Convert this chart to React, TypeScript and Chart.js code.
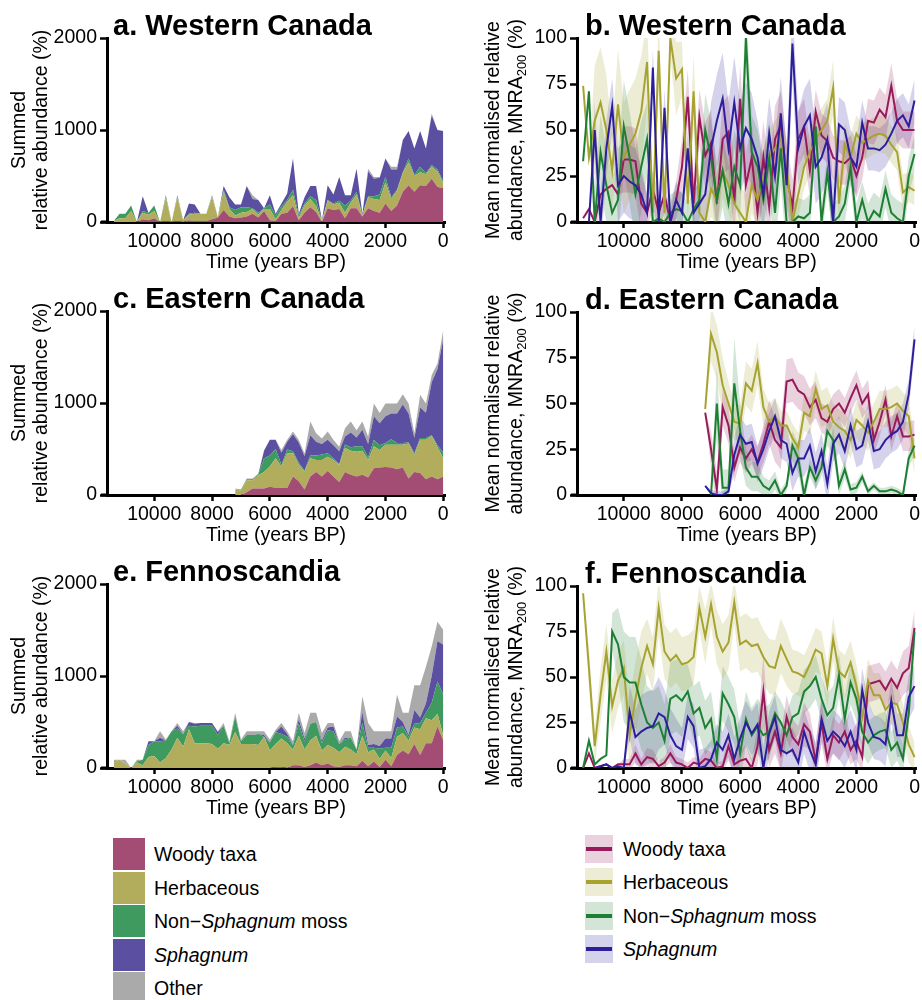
import React, { useEffect, useRef } from 'react';
import { Chart, registerables } from 'chart.js';
Chart.register(...registerables);

const FONT = '"Liberation Sans", Arial, Helvetica, sans-serif';

// ---------- categories / ticks ----------
const TIME = [11400, 11200, 11000, 10800, 10600, 10400, 10200, 10000, 9800, 9600, 9400, 9200, 9000, 8800, 8600, 8400, 8200, 8000, 7800, 7600, 7400, 7200, 7000, 6800, 6600, 6400, 6200, 6000, 5800, 5600, 5400, 5200, 5000, 4800, 4600, 4400, 4200, 4000, 3800, 3600, 3400, 3200, 3000, 2800, 2600, 2400, 2200, 2000, 1800, 1600, 1400, 1200, 1000, 800, 600, 400, 200, 0];
const X_TICKS = [10000, 8000, 6000, 4000, 2000, 0];
const SUM_TICKS = [0, 1000, 2000];
const MNRA_TICKS = [0, 25, 50, 75, 100];
const SUM_LABELS = ['Woody taxa', 'Herbaceous', 'Non\u2212Sphagnum moss', 'Sphagnum', 'Other'];
const MNRA_LABELS = ['Woody taxa', 'Herbaceous', 'Non\u2212Sphagnum moss', 'Sphagnum'];
const SUM_COLORS = ['#a34d74', '#b1ad5c', '#3e9a5f', '#5b4fa1', '#aaaaaa'];
const MNRA_LINE = ['#971b5b', '#a7a331', '#1d7f33', '#2d1f9c'];
const MNRA_FILL = ['rgba(151,27,91,0.2)', 'rgba(167,163,49,0.2)', 'rgba(29,127,51,0.2)', 'rgba(45,31,156,0.2)'];

// ---------- a. Western Canada, summed relative abundance ----------
const aWoody = [0,0,0,0,0,30,20,40,0,10,0,10,0,20,10,10,10, 30,50,130,60,40,50,60,90,50,120,20, 10,90,100,170,20,100,160,110,0,150, 130,140,40,150,150,60,150,120,100,200, 120,180,330,400,330,400,390,470,380,370];
const aHerb = [10,40,40,120,0,70,60,80,0,250,0,260,20,60,80,80,80, 240,5,200,80,30,50,50,50,30,20,120, 20,40,120,120,20,80,90,60,10,80, 60,70,60,60,150,10,120,130,140,230, 130,160,200,250,170,140,130,130,170,50];
const aMoss = [0,50,50,60,0,20,20,60,0,20,0,10,0,10,10,0,0, 10,0,20,20,60,60,50,10,20,10,50, 40,40,20,60,30,20,30,70,5,10, 10,20,80,20,30,10,10,30,60,60, 20,10,10,40,10,60,10,20,20,20];
const aSphag = [0,0,0,0,0,160,0,0,0,10,0,10,0,110,90,0,0, 10,0,40,110,60,30,230,100,140,0,100, 20,30,70,340,20,70,110,150,5,160, 100,260,110,60,250,10,270,190,180,200, 300,220,350,300,290,390,270,540,430,550];
const aOther = [0,0,0,0,0,0,0,0,0,0,0,0,0,0,0,0,0, 0,0,0,0,0,0,0,40,0,0,0, 0,0,0,0,0,0,0,0,0,0, 0,0,0,0,0,0,30,20,10,0, 30,30,0,0,0,0,0,20,0,0];

// ---------- c. Eastern Canada (from 7200 BP) ----------
const cWoody = [0,0,30,70,70,70,90,80,80,75,200,150,60,200,250,200,260,200,140,250,220,200,220,190,290,300,305,300,280,300,180,250,240,170,200,170,200];
const cHerb = [60,50,130,90,145,180,220,320,230,380,255,180,195,200,130,180,155,180,185,260,260,270,260,190,240,190,240,245,265,245,380,185,360,430,440,350,200];
const cMoss = [0,10,10,10,10,150,120,100,20,40,20,20,10,30,50,60,40,20,10,40,40,60,50,30,70,50,20,60,20,20,10,20,20,20,10,20,60];
const cSphag = [0,0,0,0,0,80,170,100,130,85,185,220,155,220,150,115,145,140,140,85,160,95,180,145,255,240,290,280,320,420,315,165,330,275,575,830,1235];
const cOther = [10,0,10,10,10,10,0,0,30,20,30,30,30,150,90,60,90,60,50,90,120,80,90,80,140,110,140,110,110,110,110,50,140,100,80,60,100];

// ---------- e. Fennoscandia ----------
const eWoody = [0,0,0,0,0,0,0,0,0,0,0,0,0,0,0,0,0,0,0,0,0,0,0,0,0,0,0,0, 10,10,0,30,30,10,30,60,30,50,20,10,30,30,20,80,20,70,10,90,20,140,190,150,260,140,270,270,450,300];
const eHerb = [60,90,50,0,60,30,120,130,60,110,200,330,230,420,270,270,270,260,210,270,250,390,260,260,260,250,340,190,250,310,270,170,320,190,270,290,160,200,200,160,200,170,130,270,150,130,90,100,90,200,190,150,180,280,270,250,140,50];
const eMoss = [10,0,0,0,10,60,130,160,230,190,200,100,140,40,180,190,190,200,150,190,20,170,30,100,100,120,0,90,130,50,70,50,130,90,180,150,80,160,180,90,80,130,50,140,50,20,110,30,110,100,70,40,40,70,60,190,350,450];
const eSphag = [0,0,0,0,0,0,40,0,40,0,0,30,0,40,30,30,30,30,30,0,0,0,0,0,0,0,20,0,0,80,30,0,50,30,0,0,30,30,50,0,20,0,0,120,30,40,30,100,100,120,50,20,150,60,100,290,440,540];
const eOther = [20,0,40,0,20,0,0,0,70,10,0,30,30,0,10,0,0,0,10,30,20,40,20,40,40,30,40,30,25,40,30,40,70,60,120,100,80,50,40,30,70,70,0,170,240,140,160,80,80,235,100,240,270,350,400,320,210,160];

// ---------- b. Western Canada, MNRA200 (means and ribbon half-widths) ----------
const bWoody = [2,7,0,15,18,20,15,34,34,33,10,5,18,5,15,0,12,30,68,10,57,36,43,10,45,49,10,67,20,35,5,35,8,45,53,25,8,45,52,28,60,47,44,35,33,32,35,25,35,55,54,61,57,74,55,50,50,50];
const bHerb = [74,35,55,65,50,28,64,35,42,48,60,87,5,93,5,100,78,83,10,71,5,0,18,12,28,20,10,5,0,20,12,25,35,40,45,30,0,15,30,38,45,50,55,73,10,42,35,48,43,45,47,48,47,42,38,16,19,17];
const bMoss = [33,71,0,38,20,5,12,52,35,15,30,45,0,2,0,5,7,6,0,7,12,50,35,12,28,10,30,20,100,38,30,12,35,5,40,0,0,3,2,5,52,0,27,0,3,10,30,0,12,0,6,3,18,5,2,0,25,37];
const bSphag = [null,0,50,0,40,63,20,25,22,20,15,5,84,0,62,0,12,5,40,5,10,15,40,55,67,40,65,40,51,45,35,15,48,25,59,20,97,40,52,58,30,35,45,0,53,50,35,30,54,40,40,39,42,48,55,58,52,66];
const bWoodySpr = [0,0,0,0,0,0,0,18,18,18,16,10,10,10,10,5,10,15,15,15,15,18,18,15,20,20,20,18,18,18,18,20,20,18,18,18,15,15,15,15,12,12,12,12,12,12,12,12,12,12,12,12,12,12,12,10,10,10];
const bHerbSpr = [0,0,30,30,30,20,30,30,30,30,30,25,10,20,10,10,20,15,10,20,10,15,15,15,15,15,15,15,15,15,15,15,15,15,15,15,10,12,12,12,12,12,12,15,12,12,12,10,10,10,10,10,10,10,10,10,8,8];
const bMossSpr = [0,0,20,20,20,20,20,25,25,25,25,20,10,10,10,10,10,10,10,10,10,20,20,20,20,20,20,20,20,20,20,20,20,20,20,15,10,10,10,10,10,10,10,10,10,10,10,10,10,10,10,10,10,10,10,10,10,10];
const bSphagSpr = [0,0,15,15,15,15,20,20,20,20,15,10,10,10,10,10,10,10,10,10,15,20,25,25,25,25,25,25,25,25,20,20,20,20,20,20,20,20,20,20,20,20,20,20,15,15,15,15,12,12,12,12,12,12,12,12,12,12];

// ---------- d. Eastern Canada, MNRA200 (from 7200 BP) ----------
const dWoody = [45,25,3,48,38,15,26,20,25,18,28,40,30,26,62,63,57,55,48,52,42,40,47,50,45,53,60,50,55,30,40,52,32,43,32,32,33];
const dHerb = [47,88,78,60,50,40,39,61,57,72,48,40,43,38,38,31,26,45,43,58,47,49,40,37,35,30,41,38,34,40,47,47,48,50,46,43,20];
const dMoss = [null,0,50,4,4,61,35,15,10,10,5,3,8,0,5,27,20,0,15,8,15,35,30,5,14,3,4,10,2,5,2,2,3,2,0,20,27];
const dSphag = [5,1,0,0,2,22,33,28,29,17,25,35,43,30,28,12,20,20,27,13,24,6,28,33,24,38,25,27,40,24,25,30,33,35,40,55,85];
const dWoodySpr = [0,10,10,10,10,8,8,8,8,8,10,12,12,12,12,12,10,10,10,10,8,8,8,8,8,8,8,8,8,8,8,8,8,8,8,8,8];
const dHerbSpr = [0,15,15,15,12,10,10,12,12,12,10,10,10,8,8,8,8,10,10,10,10,10,10,10,10,10,10,10,10,10,10,10,10,10,10,10,10];
const dMossSpr = [0,0,20,10,10,25,15,10,8,8,5,5,5,3,3,8,8,5,5,5,5,8,8,5,5,3,3,3,2,2,2,2,2,2,2,5,5];
const dSphagSpr = [0,2,2,2,2,10,10,10,10,10,10,10,10,10,10,10,10,10,10,10,10,10,10,10,10,10,10,10,10,10,10,10,10,10,10,8,8];

// ---------- f. Fennoscandia, MNRA200 ----------
const fWoody = [0,8,0,1,2,0,2,2,2,8,2,6,5,1,3,8,3,2,0,3,2,5,4,0,1,12,2,4,5,0,12,42,10,20,8,28,17,13,24,20,4,25,5,18,14,20,10,15,6,46,47,48,43,49,44,52,55,77];
const fHerb = [96,55,12,40,64,34,48,55,18,38,55,67,57,88,64,59,62,57,58,61,88,72,90,72,64,69,91,68,70,67,68,61,56,55,67,60,53,52,50,57,65,63,45,71,53,50,58,45,28,48,40,40,32,36,35,25,13,6];
const fMoss = [0,15,2,5,7,75,68,50,47,47,35,25,22,25,15,38,40,37,42,30,33,22,27,5,41,35,28,8,27,18,23,18,20,30,25,18,28,30,42,45,50,38,29,33,51,27,47,38,20,14,18,20,21,10,14,5,30,75];
const fSphag = [null,null,0,1,2,0,1,0,31,17,20,22,23,30,28,18,12,10,28,23,0,1,5,14,10,18,5,16,25,19,24,0,19,28,10,8,10,3,20,10,2,27,15,20,17,12,20,10,43,25,17,16,13,37,18,18,39,45];
const fWoodySpr = [0,0,0,0,0,0,0,3,3,5,3,5,5,3,3,5,3,3,3,3,3,5,5,3,3,8,5,5,8,5,10,20,10,12,10,12,10,10,12,10,8,12,8,10,10,10,8,10,8,10,10,10,10,10,10,12,12,10];
const fHerbSpr = [0,10,10,15,15,15,15,15,20,20,20,15,15,15,15,15,15,15,15,15,12,15,12,15,15,15,12,15,15,15,15,15,15,15,15,15,12,12,12,12,12,12,12,12,12,12,12,12,12,12,12,12,12,12,12,10,10,8];
const fMossSpr = [0,0,0,0,0,10,20,25,25,25,25,20,20,20,20,20,20,20,15,15,15,15,15,15,15,15,15,15,15,15,15,15,15,12,12,12,12,12,12,12,12,12,12,12,12,12,12,12,12,12,10,10,10,10,10,8,8,8];
const fSphagSpr = [0,0,0,0,0,0,0,0,15,15,20,20,20,20,15,15,15,12,12,12,10,10,10,10,10,12,12,12,12,12,12,12,12,12,12,12,12,12,12,12,12,12,12,12,12,12,12,12,12,12,12,12,12,12,12,12,12,12];

// ---------- helpers ----------
type V = number | null;
const pad = (arr: V[]): V[] => [...Array(Math.max(0, TIME.length - arr.length)).fill(null), ...arr];
const pts = (vals: V[]) => TIME.map((t, i) => ({ x: t, y: vals[i] === undefined ? null : vals[i] }));

function sumDatasets(series: V[][]) {
  return series.map((vals, k) => ({
    label: SUM_LABELS[k],
    data: pts(vals),
    backgroundColor: SUM_COLORS[k],
    borderColor: 'transparent',
    borderWidth: 0,
    fill: k === 0 ? 'origin' : '-1',
    pointRadius: 0,
    tension: 0,
  }));
}

function mnraDatasets(series: V[][], spreads: V[][]) {
  const lines = series.map((vals, k) => ({
    label: MNRA_LABELS[k],
    data: pts(vals),
    borderColor: MNRA_LINE[k],
    backgroundColor: MNRA_LINE[k],
    borderWidth: 2,
    fill: false,
    pointRadius: 0,
    tension: 0,
    order: 4 - k,
  }));
  const ribbons: any[] = [];
  series.forEach((vals, k) => {
    const s = spreads[k];
    const upper = vals.map((v, i) => (v == null ? null : v + (s[i] ?? 0)));
    const lower = vals.map((v, i) => (v == null ? null : v - (s[i] ?? 0)));
    ribbons.push({ label: MNRA_LABELS[k] + ' upper', data: pts(upper), borderWidth: 0, borderColor: 'transparent', backgroundColor: MNRA_FILL[k], fill: '+1', pointRadius: 0, tension: 0, order: 10 });
    ribbons.push({ label: MNRA_LABELS[k] + ' lower', data: pts(lower), borderWidth: 0, borderColor: 'transparent', backgroundColor: 'transparent', fill: false, pointRadius: 0, tension: 0, order: 10 });
  });
  return [...lines, ...ribbons];
}

type Part = { text: string; sub?: boolean };
type Panel = {
  left: number; top: number; width: number; height: number;
  padTop: number; yWidth: number; padRight: number;
  xMin: number; xMax: number;
  title: string; titleX: number; yTitleX: number[]; yTitle: Part[][];
  kind: 'sum' | 'mnra';
  datasets: any[];
};

const SUM_YTITLE: Part[][] = [[{ text: 'Summed' }], [{ text: 'relative abundance (%)' }]];
const MNRA_YTITLE: Part[][] = [
  [{ text: 'Mean normalised relative' }],
  [{ text: 'abundance, MNRA' }, { text: '200', sub: true }, { text: ' (%)' }],
];

const LEFT = { left: 0, width: 460, yWidth: 107, padRight: 15, xMin: -60, xMax: 11635, titleX: 113, yTitleX: [20, 42], yTitle: SUM_YTITLE, kind: 'sum' as const };
const RIGHT = { left: 460, width: 462, yWidth: 117, padRight: 4, xMin: -70, xMax: 11610, titleX: 125, yTitleX: [34, 57], yTitle: MNRA_YTITLE, kind: 'mnra' as const };

const PANELS: Panel[] = [
  { ...LEFT, top: 0, height: 275, padTop: 38, title: 'a. Western Canada', datasets: sumDatasets([aWoody, aHerb, aMoss, aSphag, aOther]) },
  { ...RIGHT, top: 0, height: 275, padTop: 38, title: 'b. Western Canada', datasets: mnraDatasets([bWoody, bHerb, bMoss, bSphag], [bWoodySpr, bHerbSpr, bMossSpr, bSphagSpr]) },
  { ...LEFT, top: 275, height: 273, padTop: 36, title: 'c. Eastern Canada', datasets: sumDatasets([pad(cWoody), pad(cHerb), pad(cMoss), pad(cSphag), pad(cOther)]) },
  { ...RIGHT, top: 275, height: 273, padTop: 37, title: 'd. Eastern Canada', datasets: mnraDatasets([pad(dWoody), pad(dHerb), pad(dMoss), pad(dSphag)], [pad(dWoodySpr), pad(dHerbSpr), pad(dMossSpr), pad(dSphagSpr)]) },
  { ...LEFT, top: 548, height: 273, padTop: 36, title: 'e. Fennoscandia', datasets: sumDatasets([eWoody, eHerb, eMoss, eSphag, eOther]) },
  { ...RIGHT, top: 548, height: 273, padTop: 38, title: 'f. Fennoscandia', datasets: mnraDatasets([fWoody, fHerb, fMoss, fSphag], [fWoodySpr, fHerbSpr, fMossSpr, fSphagSpr]) },
];

function drawRotated(ctx: CanvasRenderingContext2D, x: number, cy: number, parts: Part[]) {
  const main = `19.5px ${FONT}`;
  const small = `13px ${FONT}`;
  ctx.save();
  ctx.translate(x, cy);
  ctx.rotate(-Math.PI / 2);
  ctx.textBaseline = 'middle';
  ctx.textAlign = 'left';
  ctx.fillStyle = '#000';
  let total = 0;
  for (const p of parts) { ctx.font = p.sub ? small : main; total += ctx.measureText(p.text).width; }
  let pos = -total / 2;
  for (const p of parts) {
    ctx.font = p.sub ? small : main;
    ctx.fillText(p.text, pos, p.sub ? 5 : 0);
    pos += ctx.measureText(p.text).width;
  }
  ctx.restore();
}

function decorPlugin(p: Panel) {
  return {
    id: 'decor',
    afterDraw(chart: any) {
      const { ctx, chartArea } = chart;
      ctx.save();
      // small extension of the x axis line to the left of the y axis
      ctx.fillStyle = '#000';
      ctx.fillRect(chartArea.left - 6, chartArea.bottom - 1.5, 6, 3);
      ctx.font = `bold 29px ${FONT}`;
      ctx.textAlign = 'left';
      ctx.textBaseline = 'alphabetic';
      ctx.fillText(p.title, p.titleX, chartArea.top - 3);
      ctx.restore();
      const cy = (chartArea.top + chartArea.bottom) / 2;
      p.yTitle.forEach((parts, i) => drawRotated(ctx, p.yTitleX[i], cy, parts));
    },
  };
}

function buildConfig(p: Panel): any {
  const isSum = p.kind === 'sum';
  const tickFont = { family: FONT, size: 19.5 };
  return {
    type: 'line',
    data: { datasets: p.datasets },
    options: {
      responsive: false,
      animation: false,
      events: [],
      layout: { padding: { top: p.padTop, left: 0, right: p.padRight, bottom: 0 } },
      plugins: { legend: { display: false }, tooltip: { enabled: false }, title: { display: false } },
      elements: { point: { radius: 0 }, line: { tension: 0 } },
      scales: {
        x: {
          type: 'linear',
          reverse: true,
          min: p.xMin,
          max: p.xMax,
          afterFit: (s: any) => { s.height = 53; },
          afterBuildTicks: (s: any) => { s.ticks = X_TICKS.map((v) => ({ value: v })); },
          ticks: { callback: (v: any) => String(v), font: tickFont, color: '#000', padding: 2, maxRotation: 0, autoSkip: false },
          grid: { display: true, drawOnChartArea: false, drawTicks: true, tickLength: 6, tickWidth: 2.5, tickColor: '#000' },
          border: { display: true, color: '#000', width: 3 },
          title: { display: true, text: 'Time (years BP)', font: tickFont, color: '#000', padding: { top: 0, bottom: 0.5 } },
        },
        y: {
          type: 'linear',
          stacked: isSum,
          min: 0,
          max: isSum ? 2000 : 100,
          afterFit: (s: any) => { s.width = p.yWidth; },
          afterBuildTicks: (s: any) => { s.ticks = (isSum ? SUM_TICKS : MNRA_TICKS).map((v) => ({ value: v })); },
          ticks: { callback: (v: any) => String(v), font: tickFont, color: '#000', padding: 3 },
          grid: { display: true, drawOnChartArea: false, drawTicks: true, tickLength: 7, tickWidth: 2.5, tickColor: '#000' },
          border: { display: true, color: '#000', width: 3 },
        },
      },
    },
    plugins: [decorPlugin(p)],
  };
}

function renderLabel(label: string) {
  if (label === 'Sphagnum') return <i>Sphagnum</i>;
  if (label.indexOf('Sphagnum') > 0) {
    const [pre, post] = label.split('Sphagnum');
    return <>{pre}<i>Sphagnum</i>{post}</>;
  }
  return label;
}

function SumLegend() {
  return (
    <>
      {SUM_LABELS.map((lab, i) => (
        <div key={lab} style={{ position: 'absolute', left: 113, top: 838 + i * 33.5, height: 32, display: 'flex', alignItems: 'center' }}>
          <div style={{ width: 32, height: 32, background: SUM_COLORS[i] }} />
          <span style={{ marginLeft: 9, fontSize: 19.5, color: '#000', whiteSpace: 'nowrap', lineHeight: '32px' }}>{renderLabel(lab)}</span>
        </div>
      ))}
    </>
  );
}

function MnraLegend() {
  return (
    <>
      {MNRA_LABELS.map((lab, i) => (
        <div key={lab} style={{ position: 'absolute', left: 585, top: 835 + i * 33.4, height: 28, display: 'flex', alignItems: 'center' }}>
          <div style={{ width: 28, height: 28, background: MNRA_FILL[i], position: 'relative' }}>
            <div style={{ position: 'absolute', left: 1, right: 1, top: 12, height: 4, background: MNRA_LINE[i] }} />
          </div>
          <span style={{ marginLeft: 10, fontSize: 19.5, color: '#000', whiteSpace: 'nowrap', lineHeight: '28px' }}>{renderLabel(lab)}</span>
        </div>
      ))}
    </>
  );
}

export default function App() {
  const refs = useRef<(HTMLCanvasElement | null)[]>([]);
  useEffect(() => {
    const charts = PANELS.map((p, i) => new Chart(refs.current[i] as HTMLCanvasElement, buildConfig(p)));
    return () => charts.forEach((c) => c.destroy());
  }, []);
  return (
    <div style={{ position: 'absolute', left: 0, top: 0, width: 922, height: 1000, overflow: 'hidden', background: '#fff', fontFamily: FONT }}>
      {PANELS.map((p, i) => (
        <canvas
          key={i}
          ref={(el) => { refs.current[i] = el; }}
          width={p.width}
          height={p.height}
          style={{ position: 'absolute', left: p.left, top: p.top, width: p.width, height: p.height }}
        />
      ))}
      <SumLegend />
      <MnraLegend />
    </div>
  );
}
